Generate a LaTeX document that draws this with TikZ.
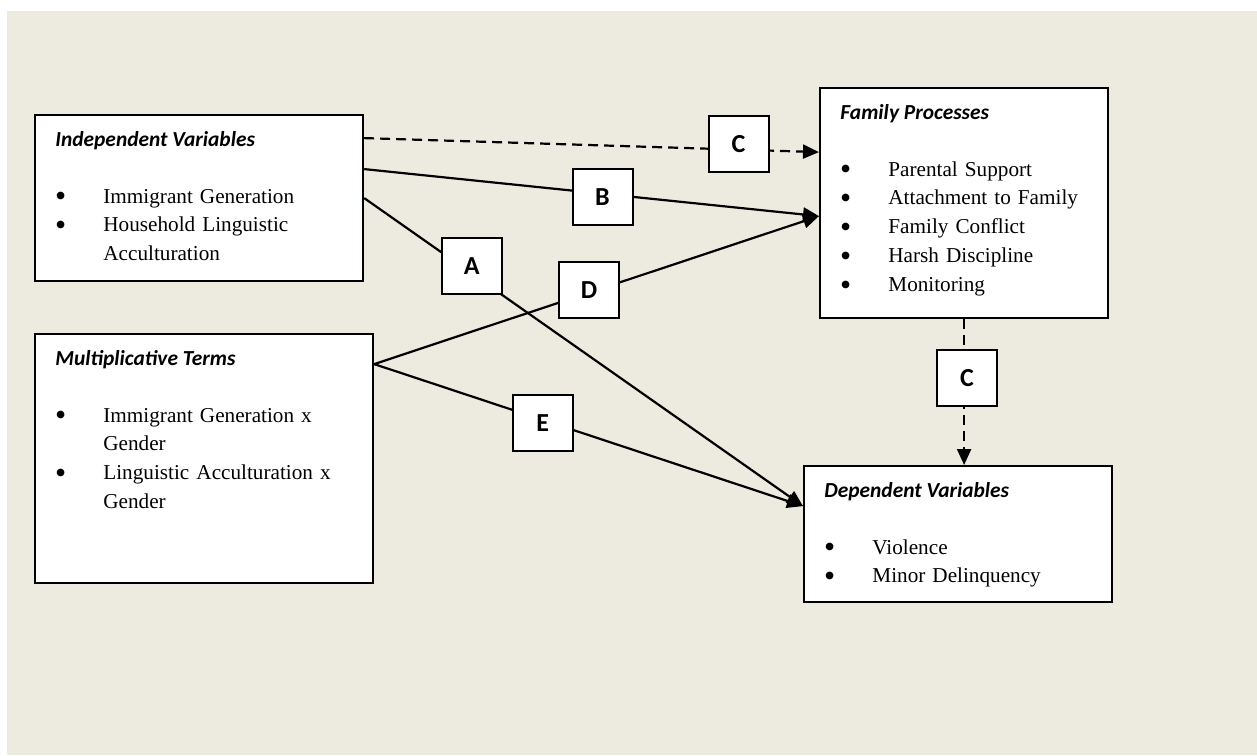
\documentclass[tikz,border=0pt]{standalone}
\usepackage{fontspec}
\setmainfont{Liberation Serif}
\newfontfamily\calibri{Carlito}
\usetikzlibrary{arrows.meta, positioning}

\definecolor{paper}{HTML}{EDEAE0}

% bullet item with hanging indent
\newcommand{\bul}{\rightskip=0pt plus 1fil\hangindent=24pt\hangafter=1\noindent
  \makebox[24pt][l]{\hspace{-0.2pt}\smash{\raisebox{-1.9pt}{\scalebox{1.5}{\textbullet}}}}}

\begin{document}
\begin{tikzpicture}[
    x=0.5pt, y=-0.5pt,
    panel/.style={draw, fill=white, line width=1.1pt, anchor=north west, inner sep=0pt},
    ttl/.style={anchor=base west, inner sep=0pt, font=\calibri\bfseries\itshape\fontsize{10.7}{13}\selectfont},
    items/.style={anchor=base west, inner sep=0pt, text width=160pt, align=left, font=\fontsize{10.6}{14.4}\selectfont},
    tag/.style={draw, solid, fill=white, line width=1pt, minimum width=30pt, minimum height=28pt, inner sep=0pt, font=\calibri\bfseries\fontsize{13}{15}\selectfont},
    link/.style={line width=1.1pt},
    arrow/.style={link, -{Triangle[length=8pt, width=7pt]}},
    dasharrow/.style={arrow, dash pattern=on 5pt off 3pt}
]
% page and background
\fill[white] (0,0) rectangle (1257,755);
\fill[paper] (7,11) rectangle (1257,755);
\useasboundingbox (0,0) rectangle (1257,755);

% boxes
\node[panel, minimum width=164pt, minimum height=83pt] (iv) at (34,114) {};
\node[panel, minimum width=144pt, minimum height=115pt] (fp) at (819,87) {};
\node[panel, minimum width=169pt, minimum height=124.5pt] (mt) at (34,333) {};
\node[panel, minimum width=154pt, minimum height=68pt] (dv) at (803,465) {};

\node[ttl] (ivttl) at ([shift={(21,32)}]iv.north west) {Independent Variables};
\node[items] (ivlist) at ([shift={(21,89)}]iv.north west)
    {\bul Immigrant Generation\par\bul Household Linguistic\newline Acculturation\par};
\node[ttl] (fpttl) at ([shift={(21,32)}]fp.north west) {Family Processes};
\node[items] (fplist) at ([shift={(21,89)}]fp.north west)
    {\bul Parental Support\par\bul Attachment to Family\par\bul Family Conflict\par\bul Harsh Discipline\par\bul Monitoring\par};
\node[ttl] (mtttl) at ([shift={(21,32)}]mt.north west) {Multiplicative Terms};
\node[items] (mtlist) at ([shift={(21,89)}]mt.north west)
    {\bul Immigrant Generation x\newline Gender\par\bul Linguistic Acculturation x\newline Gender\par};
\node[ttl] (dvttl) at ([shift={(21,32)}]dv.north west) {Dependent Variables};
\node[items] (dvlist) at ([shift={(21,89)}]dv.north west)
    {\bul Violence\par\bul Minor Delinquency\par};

% connector ends
\coordinate (ivC) at ([yshift=30pt]iv.east);
\coordinate (ivB) at ([yshift=14.5pt]iv.east);
\coordinate (fpC) at ([yshift=25.5pt]fp.west);
\coordinate (fpB) at ([yshift=-6.5pt]fp.west);
\coordinate (mtD) at ([yshift=47.25pt]mt.east);
\coordinate (dvA) at ([yshift=14pt]dv.west);
\coordinate (dvC) at (fp.south |- dv.north);

% paths
\draw[dasharrow] (ivC) -- node[tag, pos=0.823, yshift=3pt] (c1) {C} (fpC);
\draw[arrow] (ivB) -- node[tag, pos=0.524, yshift=-1.7pt] (b) {B} (fpB);
\draw[arrow] (iv.east) -- node[tag, pos=0.245, yshift=3.7pt] (a) {A} (dvA);
\draw[arrow] (mtD) -- node[tag, pos=0.483, yshift=1.5pt] (d) {D} (fpB);
\draw[arrow] (mtD) -- node[tag, pos=0.393, yshift=-1.5pt] (e) {E} (dvA);
\draw[dasharrow] (fp.south) -- node[tag, pos=0.405, xshift=1.5pt] (c2) {C} (dvC);
\end{tikzpicture}
\end{document}
